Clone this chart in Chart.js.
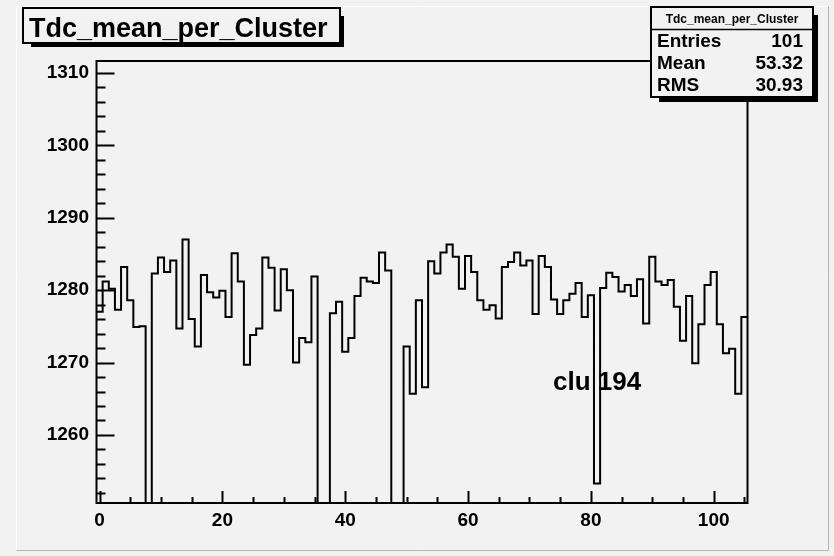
<!DOCTYPE html>
<html>
<head>
<meta charset="utf-8">
<title>Tdc_mean_per_Cluster</title>
<script src="https://cdn.jsdelivr.net/npm/chart.js@4.4.1/dist/chart.umd.min.js"></script>
<style>
  html, body { margin: 0; padding: 0; background: #f2f2f2; }
  #wrap { width: 834px; height: 556px; position: relative; }
</style>
</head>
<body>
<div id="wrap"><canvas id="chart"></canvas></div>
<script>
// Histogram: mean TDC per cluster, one bin per cluster number (bins centred on 0..105)
const histTitle = 'Tdc_mean_per_Cluster';
const tdcMean = [
    1277.0, 1281.2, 1280.2, 1277.3, 1283.2, 1278.6, 1274.9, 1275.0, 0,      1282.3,
    1284.5, 1282.5, 1284.1, 1274.7, 1287.0, 1276.0, 1272.2, 1282.1, 1279.7, 1279.0,
    1279.9, 1276.3, 1285.1, 1281.2, 1269.7, 1273.8, 1274.7, 1284.5, 1283.1, 1277.2,
    1282.9, 1280.0, 1270.0, 1273.4, 1272.8, 1281.9, 0,      0,      1276.8, 1278.4,
    1271.5, 1273.4, 1279.2, 1281.7, 1281.2, 1281.0, 1285.2, 1282.7, 0,      0,
    1272.2, 1265.7, 1278.6, 1266.6, 1284.0, 1282.3, 1285.2, 1286.3, 1284.6, 1280.2,
    1284.7, 1282.5, 1278.6, 1277.3, 1277.9, 1276.1, 1283.2, 1283.9, 1285.2, 1283.4,
    1284.1, 1276.7, 1284.7, 1283.2, 1278.7, 1276.7, 1278.6, 1279.5, 1281.0, 1276.3,
    1279.3, 1253.3, 1280.3, 1282.4, 1281.8, 1279.8, 1280.7, 1279.2, 1281.5, 1275.4,
    1284.6, 1281.2, 1280.7, 1281.4, 1277.7, 1273.0, 1279.2, 1269.9, 1275.3, 1280.7,
    1282.5, 1275.3, 1271.3, 1271.9, 1265.7, 1276.3
];
const clusters = tdcMean.map((v, i) => i);
const xTickValues = [0, 20, 40, 60, 80, 100];
const yTickValues = [1260, 1270, 1280, 1290, 1300, 1310];
const statLabels = ['Entries', 'Mean', 'RMS'];
const statValues = ['101', '53.32', '30.93'];
const noteText = 'clu 194';

const FONT = "'Liberation Sans', Arial, Helvetica, sans-serif";

// outline of the histogram: two points per bin (low edge, high edge)
const outline = [];
clusters.forEach((c, i) => {
    outline.push({ x: c - 0.5, y: tdcMean[i] });
    outline.push({ x: c + 0.5, y: tdcMean[i] });
});

function drawBox(ctx, x0, y0, x1, y1, shadow) {
    ctx.fillStyle = '#000';
    ctx.fillRect(x0 + 8, y1, x1 - x0 - 8 + shadow, shadow);
    ctx.fillRect(x1, y0 + 8, shadow, y1 - y0 - 8 + shadow);
    ctx.fillStyle = '#f2f2f2';
    ctx.fillRect(x0, y0, x1 - x0, y1 - y0);
    ctx.strokeStyle = '#000';
    ctx.lineWidth = 2;
    ctx.strokeRect(x0, y0, x1 - x0, y1 - y0);
}

const rootLook = {
    id: 'rootLook',
    beforeDraw(chart) {
        const ctx = chart.ctx;
        ctx.save();
        ctx.fillStyle = '#f2f2f2';
        ctx.fillRect(0, 0, chart.width, chart.height);
        // pad bevel
        ctx.lineWidth = 1;
        ctx.strokeStyle = '#ffffff';
        ctx.beginPath();
        ctx.moveTo(16.5, 550.5); ctx.lineTo(16.5, 6.5); ctx.lineTo(828.5, 6.5);
        ctx.stroke();
        ctx.strokeStyle = '#b4b4b4';
        ctx.beginPath();
        ctx.moveTo(828.5, 6.5); ctx.lineTo(828.5, 550.5); ctx.lineTo(16.5, 550.5);
        ctx.stroke();
        ctx.restore();
    },
    afterDraw(chart) {
        const ctx = chart.ctx;
        const a = chart.chartArea;
        const xs = chart.scales.x, ys = chart.scales.y;
        ctx.save();
        ctx.strokeStyle = '#000';
        ctx.lineWidth = 2;
        ctx.strokeRect(a.left, a.top, a.right - a.left, a.bottom - a.top);

        // inward ticks, ROOT style
        ctx.beginPath();
        for (let v = 1252; v <= 1311; v += 2) {
            const py = Math.round(ys.getPixelForValue(v)) + 0.5;
            const len = v % 10 === 0 ? 18 : 9;
            ctx.moveTo(a.left, py); ctx.lineTo(a.left + len, py);
        }
        for (let v = 0; v <= 105; v += 5) {
            const px = Math.round(xs.getPixelForValue(v)) + 0.5;
            const len = v % 20 === 0 ? 12 : 6;
            ctx.moveTo(px, a.bottom); ctx.lineTo(px, a.bottom - len);
        }
        ctx.stroke();

        // title box
        drawBox(ctx, 23, 8, 340, 43, 4);
        ctx.fillStyle = '#000';
        ctx.font = 'bold 27px ' + FONT;
        ctx.textAlign = 'left';
        ctx.textBaseline = 'alphabetic';
        ctx.fillText(histTitle, 29, 37);

        // stats box
        drawBox(ctx, 651, 7, 813, 97, 5);
        ctx.lineWidth = 1.5;
        ctx.beginPath();
        ctx.moveTo(651, 29.5); ctx.lineTo(813, 29.5);
        ctx.stroke();
        ctx.fillStyle = '#000';
        ctx.font = 'bold 12px ' + FONT;
        ctx.textAlign = 'center';
        ctx.fillText(histTitle, 732, 23);
        ctx.font = 'bold 19px ' + FONT;
        statLabels.forEach((lab, i) => {
            const by = 47 + i * 22;
            ctx.textAlign = 'left';
            ctx.fillText(lab, 657, by);
            ctx.textAlign = 'right';
            ctx.fillText(statValues[i], 803, by);
        });

        // annotation
        ctx.font = 'bold 26px ' + FONT;
        ctx.textAlign = 'left';
        ctx.fillText(noteText, 553, 390);
        ctx.restore();
    }
};

const ctx = document.getElementById('chart').getContext('2d');
new Chart(ctx, {
    type: 'line',
    data: {
        datasets: [{
            label: histTitle,
            data: outline,
            borderColor: '#000',
            borderWidth: 2,
            pointRadius: 0,
            fill: false,
            tension: 0
        }]
    },
    options: {
        responsive: true,
        maintainAspectRatio: false,
        animation: false,
        layout: { padding: { left: 0, top: 61, right: 86.5, bottom: 0 } },
        plugins: {
            legend: { display: false },
            tooltip: { enabled: false }
        },
        scales: {
            x: {
                type: 'linear',
                min: -0.5,
                max: 105.5,
                grid: { display: false, drawTicks: false },
                border: { display: false },
                afterBuildTicks: s => { s.ticks = xTickValues.map(value => ({ value })); },
                afterFit: s => { s.height = 53; },
                ticks: {
                    autoSkip: false,
                    maxRotation: 0,
                    padding: 6,
                    color: '#000',
                    font: { family: FONT, size: 19, weight: 'bold' },
                    callback: v => String(v)
                }
            },
            y: {
                type: 'linear',
                min: 1250.6,
                max: 1311.65,
                grid: { display: false, drawTicks: false },
                border: { display: false },
                afterBuildTicks: s => { s.ticks = yTickValues.map(value => ({ value })); },
                afterFit: s => { s.width = 96.5; },
                ticks: {
                    autoSkip: false,
                    padding: 7.5,
                    color: '#000',
                    font: { family: FONT, size: 19, weight: 'bold' },
                    callback: v => String(v)
                }
            }
        }
    },
    plugins: [rootLook]
});
</script>
</body>
</html>
